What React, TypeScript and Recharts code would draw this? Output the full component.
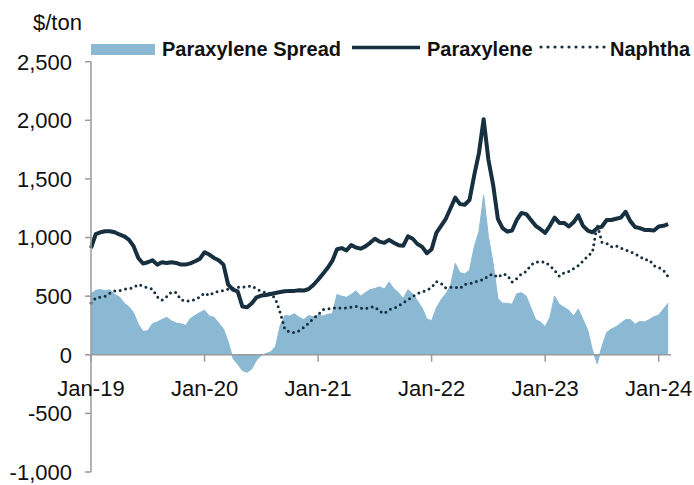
import React from "react";
import { ComposedChart, Area, Line, XAxis, YAxis, ReferenceLine } from "recharts";

// Half-month steps from Jan-2019 (month offset = index / 2)
const spread = [
  520, 550, 556, 545, 555, 515, 495, 442, 410, 360, 260, 200, 205, 265, 280, 300, 320, 290, 270, 265,
  250, 310, 335, 360, 380, 330, 320, 270, 220, 110, -30, -80, -135, -150, -120, -45, -5, 10, 25, 70,
  250, 335, 330, 350, 320, 300, 335, 325, 340, 330, 345, 350, 515, 500, 490, 515, 545, 500, 530, 556,
  565, 580, 560, 620, 565, 530, 480, 555, 520, 460, 400, 305, 290, 400, 470, 520, 590, 780, 700, 690,
  720, 920, 1050, 1360, 1010, 780, 480, 440, 440, 430, 520, 530, 500, 400, 300, 280, 240, 320, 500, 430,
  405, 380, 330, 390, 300, 210, 40, -75, 70, 190, 220, 240, 270, 300, 300, 260, 285, 280, 300, 325,
  340, 390, 440,
];
const paraxylene = [
  910, 1030, 1045, 1054, 1054, 1045, 1026, 1011, 983, 926, 826, 778, 789, 806, 769, 789, 783, 789, 783, 769,
  769, 780, 798, 818, 875, 855, 826, 806, 769, 598, 555, 541, 412, 405, 440, 490, 505, 510, 518, 527,
  535, 541, 545, 545, 550, 548, 561, 595, 640, 690, 740, 800, 900, 910, 890, 935, 915, 905, 925, 955,
  990, 965, 955, 980, 955, 935, 929, 1010, 990, 945, 920, 866, 900, 1040, 1100, 1160, 1250, 1340, 1285, 1280,
  1320, 1530, 1720, 2010, 1665, 1450, 1160, 1080, 1050, 1060, 1150, 1210, 1200, 1150, 1100, 1071, 1040, 1100, 1170, 1125,
  1125, 1094, 1130, 1190, 1100, 1060, 1045, 1080, 1094, 1150, 1150, 1160, 1170, 1220, 1140, 1090, 1080, 1065, 1065, 1060,
  1094, 1100, 1115,
];
const naphtha = [
  441, 484, 493, 500, 525, 545, 547, 558, 565, 572, 600, 585, 572, 560, 495, 465, 495, 535, 530, 470,
  456, 460, 470, 493, 527, 505, 533, 541, 547, 561, 568, 575, 578, 580, 588, 560, 541, 530, 522, 475,
  360, 215, 195, 190, 205, 235, 270, 310, 340, 385, 390, 398, 399, 399, 399, 405, 413, 399, 392, 405,
  410, 372, 352, 385, 396, 415, 445, 468, 497, 522, 538, 550, 575, 625, 610, 570, 575, 577, 565, 600,
  605, 618, 634, 640, 675, 688, 660, 690, 680, 620, 650, 690, 710, 765, 790, 795, 790, 760, 720, 670,
  700, 710, 735, 760, 800, 840, 875, 1110, 960, 950, 920, 930, 910, 895, 880, 860, 840, 810, 810, 760,
  745, 720, 665,
];
const months = spread.map((_, i) => i / 2);

const tickMonths = [0, 12, 24, 36, 48, 60];
const tickLabels = ["Jan-19", "Jan-20", "Jan-21", "Jan-22", "Jan-23", "Jan-24"];
const yTicks = [-1000, -500, 0, 500, 1000, 1500, 2000, 2500];

const data = months.map((m, i) => ({
  m,
  spread: spread[i],
  paraxylene: paraxylene[i],
  naphtha: naphtha[i],
}));

const W = 694;
const H = 485;
const TOP = 61.7;
const BOTTOM = 472;
const Y_MIN = -1000;
const Y_MAX = 2500;
const ZERO_Y = TOP + ((Y_MAX - 0) / (Y_MAX - Y_MIN)) * (BOTTOM - TOP);

const SPREAD_C = "#8bb8d3";
const DARK = "#17303f";
const AXIS_C = "#9a9a9a";
const FONT = "'Liberation Sans', Arial, sans-serif";

const XTick = (props: any) => {
  const { x, payload } = props;
  const idx = tickMonths.indexOf(payload.value);
  return (
    <g>
      <line x1={x} x2={x} y1={ZERO_Y} y2={ZERO_Y + 7} stroke={AXIS_C} strokeWidth={1.5} />
      <text x={x} y={ZERO_Y + 41} textAnchor="middle" fontSize={22} fontFamily={FONT} fill="#111">
        {tickLabels[idx]}
      </text>
    </g>
  );
};

export default function App() {
  return (
    <div style={{ position: "absolute", left: 0, top: 0, width: W, height: H, background: "#fff" }}>
      <ComposedChart
        width={W}
        height={H}
        data={data}
        margin={{ top: TOP, right: 23, bottom: 0, left: 0 }}
      >
        <XAxis
          dataKey="m"
          type="number"
          domain={[0, 61.3]}
          ticks={tickMonths}
          axisLine={false}
          tickLine={false}
          height={H - BOTTOM}
          tick={<XTick />}
          interval={0}
        />
        <YAxis
          type="number"
          domain={[Y_MIN, Y_MAX]}
          ticks={yTicks}
          width={91}
          tickSize={6}
          tickMargin={13}
          axisLine={{ stroke: AXIS_C, strokeWidth: 1.5 }}
          tickLine={{ stroke: AXIS_C, strokeWidth: 1.5 }}
          tick={{ fontSize: 22, fontFamily: FONT, fill: "#111" }}
          tickFormatter={(v: number) => v.toLocaleString("en-US")}
          interval={0}
        />
        <Area
          dataKey="spread"
          type="linear"
          baseValue={0}
          fill={SPREAD_C}
          fillOpacity={1}
          stroke={SPREAD_C}
          strokeWidth={1}
          isAnimationActive={false}
        />
        <ReferenceLine y={0} stroke={AXIS_C} strokeWidth={1.5} />
        <Line
          dataKey="naphtha"
          type="linear"
          stroke={DARK}
          strokeWidth={3}
          strokeDasharray="0 5.5"
          strokeLinecap="round"
          dot={false}
          isAnimationActive={false}
        />
        <Line
          dataKey="paraxylene"
          type="linear"
          stroke={DARK}
          strokeWidth={4}
          strokeLinejoin="round"
          dot={false}
          isAnimationActive={false}
        />
      </ComposedChart>
      <svg
        width={W}
        height={70}
        style={{ position: "absolute", left: 0, top: 0, pointerEvents: "none" }}
      >
        <text x={33} y={30} fontSize={22} fontFamily={FONT} fill="#111">
          $/ton
        </text>
        <rect x={91} y={44} width={64} height={11} fill={SPREAD_C} />
        <text x={162} y={56} fontSize={20} fontWeight="bold" fontFamily={FONT} fill="#111">
          Paraxylene Spread
        </text>
        <line x1={352} x2={420} y1={47.5} y2={47.5} stroke={DARK} strokeWidth={3.5} />
        <text x={427} y={56} fontSize={20} fontWeight="bold" fontFamily={FONT} fill="#111">
          Paraxylene
        </text>
        <line
          x1={541}
          x2={605}
          y1={47}
          y2={47}
          stroke={DARK}
          strokeWidth={3.2}
          strokeDasharray="0 7"
          strokeLinecap="round"
        />
        <text x={610} y={56} fontSize={20} fontWeight="bold" fontFamily={FONT} fill="#111">
          Naphtha
        </text>
      </svg>
    </div>
  );
}
